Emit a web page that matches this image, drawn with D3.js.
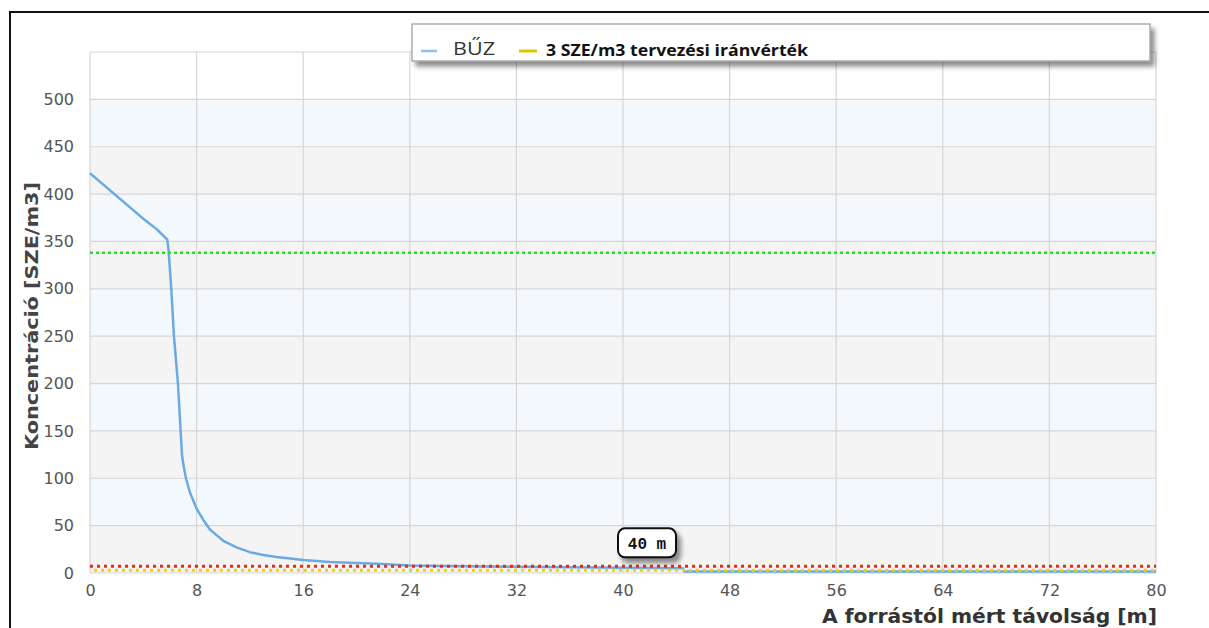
<!DOCTYPE html>
<html>
<head>
<meta charset="utf-8">
<script src="https://cdn.jsdelivr.net/npm/d3@7"></script>
<style>
  html, body { margin: 0; padding: 0; background: #fff; }
  svg { display: block; }
</style>
</head>
<body>
<svg id="chart" width="1209" height="628"></svg>
<script>
// ---- data ----
const distX = [0, 1, 2, 3, 4, 5, 5.8, 5.9, 6.1, 6.3, 6.6, 6.8, 6.9, 7.0, 7.2, 7.5, 8, 8.5, 9, 9.5, 10, 11, 12, 13, 14, 16, 18, 20, 22, 24, 28, 32, 36, 40, 44.5, 44.6, 48, 56, 64, 72, 80];
const buzValues = [422, 410, 398, 386, 374, 363, 352, 340, 300, 250, 200, 150, 125, 115, 100, 85, 68, 56, 46, 40, 34, 27, 22, 19, 17, 13.7, 11.6, 10.5, 9.5, 8, 7, 6.5, 6, 5.5, 5, 1.5, 1.5, 1.5, 1.5, 1.5, 1.5];
const greenLimit = 338;
const redLimit = 7;
const yellowLimit = 3;
const xTicks = [0, 8, 16, 24, 32, 40, 48, 56, 64, 72, 80];
const yTicks = [0, 50, 100, 150, 200, 250, 300, 350, 400, 450, 500];
const seriesName = "BŰZ";
const limitName = "3 SZE/m3 tervezési iránvérték";
const yTitle = "Koncentráció [SZE/m3]";
const xTitle = "A forrástól mért távolság [m]";
const distanceLabel = "40 m";
const distanceLabelX = 40;

// ---- layout ----
const svg = d3.select("#chart");
const pL = 90, pR = 1156, pT = 52, pB = 573;
const x = d3.scaleLinear().domain([0, 80]).range([pL, pR]);
const y = d3.scaleLinear().domain([0, 550]).range([pB, pT]);

const defs = svg.append("defs");
const sh = defs.append("filter").attr("id", "shadow").attr("x", "-10%").attr("y", "-30%").attr("width", "130%").attr("height", "200%");
sh.append("feGaussianBlur").attr("in", "SourceAlpha").attr("stdDeviation", 2.5);
sh.append("feOffset").attr("dx", 4).attr("dy", 5).attr("result", "ob");
sh.append("feComponentTransfer").append("feFuncA").attr("type", "linear").attr("slope", 0.45);
const m = sh.append("feMerge");
m.append("feMergeNode");
m.append("feMergeNode").attr("in", "SourceGraphic");

// outer frame
svg.append("path").attr("d", `M10,640 L10,12 L1215,12`).attr("fill", "none").attr("stroke", "#111").attr("stroke-width", 2);

// plot bands
const bands = d3.range(0, 550, 50);
svg.append("g").selectAll("rect").data(bands).join("rect")
  .attr("x", pL).attr("width", pR - pL)
  .attr("y", d => y(d + 50)).attr("height", d => y(d) - y(d + 50))
  .attr("fill", d => d >= 500 ? "#ffffff" : ((d / 50) % 2 === 0 ? "#f4f4f4" : "#f3f8fc"));

// grid
const grid = svg.append("g").attr("stroke", "#d6d6d6").attr("stroke-width", 1.2);
grid.selectAll(".h").data(yTicks.concat([550])).join("line").attr("class", "h")
  .attr("x1", pL).attr("x2", pR).attr("y1", d => y(d)).attr("y2", d => y(d));
grid.selectAll(".v").data(xTicks).join("line").attr("class", "v")
  .attr("y1", pT).attr("y2", pB).attr("x1", d => x(d)).attr("x2", d => x(d));

// axes labels via d3 axes
const yAxis = d3.axisLeft(y).tickValues(yTicks).tickSize(0).tickPadding(16);
const gy = svg.append("g").attr("transform", `translate(${pL},0)`).call(yAxis);
gy.select(".domain").remove();
gy.selectAll("text").attr("font-family", "DejaVu Sans").attr("font-size", 16).attr("fill", "#555");

const xAxis = d3.axisBottom(x).tickValues(xTicks).tickSize(0).tickPadding(12);
const gx = svg.append("g").attr("transform", `translate(0,${pB})`).call(xAxis);
gx.select(".domain").remove();
gx.selectAll("text").attr("font-family", "DejaVu Sans").attr("font-size", 16).attr("fill", "#555");

// titles
svg.append("text").text(yTitle)
  .attr("transform", `translate(38,316) rotate(-90)`)
  .attr("text-anchor", "middle")
  .attr("font-family", "DejaVu Sans").attr("font-weight", "bold").attr("font-size", 17)
  .attr("textLength", 268).attr("lengthAdjust", "spacingAndGlyphs")
  .attr("fill", "#444");
svg.append("text").text(xTitle)
  .attr("x", 1157).attr("y", 623).attr("text-anchor", "end")
  .attr("font-family", "DejaVu Sans").attr("font-weight", "bold").attr("font-size", 19)
  .attr("textLength", 335).attr("lengthAdjust", "spacingAndGlyphs")
  .attr("fill", "#333");

// reference lines
function hline(v, color, w, dash, off) {
  svg.append("line").attr("x1", pL).attr("x2", pR).attr("y1", y(v)).attr("y2", y(v))
    .attr("stroke", color).attr("stroke-width", w).attr("stroke-dasharray", dash).attr("stroke-dashoffset", off || 0);
}
// blue series
const line = d3.line().x((d, i) => x(distX[i])).y(d => y(d));
svg.append("path").datum(buzValues).attr("d", line)
  .attr("fill", "none").attr("stroke", "#6aaae4").attr("stroke-width", 2.5).attr("stroke-linejoin", "round");

hline(greenLimit, "#22e022", 2.4, "3,3");
hline(yellowLimit, "#f2cf10", 3, "3,4", 3);
hline(redLimit, "#e8281e", 3, "3,4");

// distance label
const lb = svg.append("g").attr("transform", `translate(${x(distanceLabelX) - 5},${y(redLimit) - 38})`);
lb.append("rect").attr("width", 58).attr("height", 29).attr("rx", 7)
  .attr("fill", "#fff").attr("stroke", "#111").attr("stroke-width", 2).attr("filter", "url(#shadow)");
lb.append("text").text(distanceLabel).attr("x", 29).attr("y", 21).attr("text-anchor", "middle")
  .attr("font-family", "Liberation Mono").attr("font-weight", "bold").attr("font-size", 16).attr("fill", "#111");

// legend
const lg = svg.append("g");
lg.append("rect").attr("x", 412).attr("y", 24).attr("width", 738).attr("height", 37)
  .attr("fill", "#fff").attr("stroke", "#999").attr("stroke-width", 1.2).attr("filter", "url(#shadow)");
lg.append("line").attr("x1", 421).attr("x2", 437).attr("y1", 51).attr("y2", 51).attr("stroke", "#8fc0ec").attr("stroke-width", 2.5);
lg.append("text").text(seriesName).attr("x", 453).attr("y", 55)
  .attr("font-family", "Open Sans").attr("font-size", 18).attr("fill", "#333")
  .attr("textLength", 42).attr("lengthAdjust", "spacingAndGlyphs");
lg.append("line").attr("x1", 519).attr("x2", 537).attr("y1", 51).attr("y2", 51).attr("stroke", "#e5c300").attr("stroke-width", 3);
lg.append("text").text(limitName).attr("x", 546).attr("y", 56)
  .attr("font-family", "Open Sans").attr("font-weight", "bold").attr("font-size", 15.5).attr("fill", "#111")
  .attr("textLength", 262).attr("lengthAdjust", "spacingAndGlyphs");
</script>
</body>
</html>
